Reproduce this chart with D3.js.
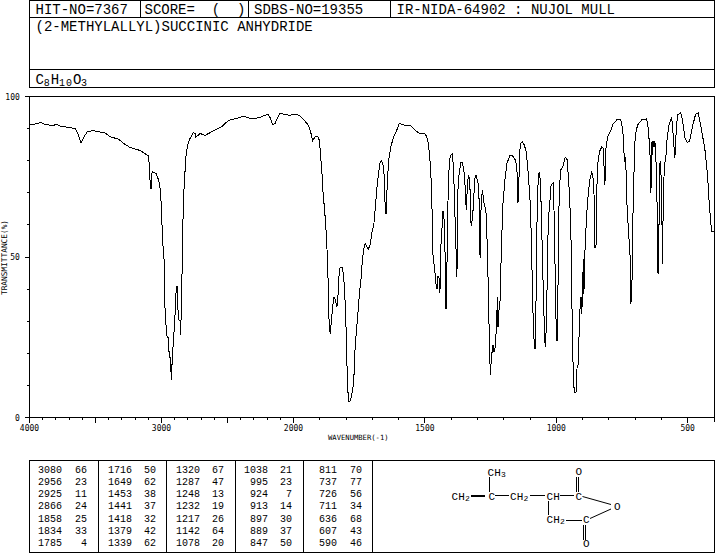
<!DOCTYPE html>
<html><head><meta charset="utf-8">
<style>html,body{margin:0;padding:0;background:#fff}svg{display:block}text{fill:#000}</style>
<script src="https://cdn.jsdelivr.net/npm/d3@7/dist/d3.min.js"></script>
</head><body><div id="c"></div>
<script>
const spectrumWavenumbers=[
3996,3958,3915,3882,3819,3802,3769,3706,3655,3635,3610,3587,3562,3516,3478,3428,3390,3327,3276,3238,3163,3100,3092,3084,3079,3074,3067,3041,3021,3011,3004,2996,2989,2978,2973,2963,2956,2948,2941,2933,2925,2918,2910,2903,2895,2888,2882,2877,2867,2860,2855,2847,2840,2832,2822,2814,2802,2784,2759,2746,2739,2708,2670,2620,2544,2494,2430,2380,2317,2254,2224,2191,2178,2158,2140,2102,2065,2027,2001,
1978,1960,1944,1935,1927,1917,1907,1901,1897,1892,1887,1882,1877,1872,1868,1866,1862,1859,1857,1852,1847,1843,1835,1831,1826,1823,1814,1809,1805,1801,1797,1794,1789,1783,1778,1771,1767,1761,1754,1748,1743,1738,1732,1727,1716,1709,1701,1694,1689,1682,1676,1670,1665,1657,1653,1651,1647,1643,1637,1628,1618,1607,1598,1578,1556,1540,1523,1498,1489,1483,1478,1474,1471,1469,1464,1461,1458,1454,1450,1445,1444,1440,1439,1435,1433,1429,1425,1420,1417,1415,1411,1407,1402,1395,1390,1386,1382,1381,1378,1376,1372,1364,1357,1351,1347,1344,1342,1338,1333,1329,1325,1323,1318,1314,1310,1306,1302,1296,1292,1291,1289,1286,1281,1275,1268,1265,1261,1257,1253,1251,1247,1241,1237,1232,1228,1224,1222,1219,1218,1214,1212,1208,1203,1195,1188,1177,1167,1157,1150,1148,1146,1143,1140,1136,1129,1122,1114,1107,1100,1097,1093,1089,1085,1081,1079,1075,1073,1068,1064,1060,1056,1051,1047,1044,1041,1037,1033,1030,1025,1020,1012,1007,1003,999,997,994,992,988,983,975,
966,959,953,949,944,942,938,934,929,925,921,916,913,909,906,903,897,895,892,885,880,873,866,861,856,853,849,847,842,836,827,820,818,815,812,805,795,783,770,755,747,742,740,736,732,728,723,719,716,712,710,707,700,691,675,656,650,646,641,640,637,635,632,628,625,621,618,615,613,611,607,603,599,596,593,589,583,578,570,561,558,553,549,545,539,527,520,510,502,493,482,470,460,452,435,425,419,412,408,401];
const spectrumTransmittance=[
91.1,91.4,91.9,91.3,90.9,91.4,90.8,90.4,90.0,88.5,85.5,87.5,89.0,89.4,89.0,88.7,87.5,86.7,85.1,84.1,83.2,81.5,78.6,71.3,71.3,76.0,76.6,76.0,73.9,71.3,67.7,59.9,53.7,47.9,32.9,27.1,24.8,24.8,18.8,18.8,11.7,18.8,23.5,28.2,33.9,40.7,40.7,34.4,30.3,30.3,25.8,38.1,57.3,69.3,76.5,81.7,84.9,86.9,88.8,88.5,87.3,88.5,87.9,89.0,90.6,92.5,93.2,93.9,93.0,93.5,94.1,94.4,93.5,91.3,91.6,94.9,94.3,94.2,94.4,
94.2,92.7,91.1,89.0,86.3,87.5,87.5,86.2,81.7,76.5,69.3,65.1,59.4,51.6,41.7,32.3,27.1,26.1,29.2,33.4,37.3,37.3,34.4,37.6,45.3,46.7,46.6,43.8,38.6,30.8,17.8,8.9,5.0,5.3,7.4,10.5,19.9,26.6,33.4,39.6,43.3,49.0,52.6,54.2,52.3,53.7,57.8,60.4,65.1,71.9,76.5,79.7,80.1,78.1,71.9,63.7,63.7,73.9,80.7,84.9,87.5,89.5,91.6,91.1,91.0,89.7,88.6,88.3,86.4,82.3,77.1,68.7,58.3,50.0,46.9,44.8,41.7,40.1,44.1,43.3,38.9,42.2,53.7,58.9,64.1,64.1,58.9,33.9,33.9,58.9,70.8,80.2,81.7,82.3,75.0,63.5,57.3,43.8,43.8,67.7,74.5,79.3,79.3,76.5,71.9,66.7,64.8,73.4,75.5,72.9,60.9,59.8,63.0,68.7,74.5,75.5,74.5,72.4,63.5,51.1,49.8,67.7,70.8,66.7,64.6,58.9,48.5,32.3,18.8,13.1,18.8,22.5,20.4,21.9,28.2,37.5,28.2,28.2,33.9,36.5,43.8,55.2,66.7,74.5,79.1,81.6,81.6,80.4,78.1,70.8,66.9,70.8,82.3,85.4,85.9,84.9,82.8,76.0,67.7,61.5,47.9,33.4,24.5,21.4,27.1,47.9,64.6,76.0,76.2,72.9,60.4,43.8,32.3,24.0,21.9,31.3,52.1,62.0,66.7,72.4,73.1,59.9,36.5,24.0,24.0,35.5,57.3,71.9,77.1,78.1,
81.0,80.4,73.9,68.2,55.2,42.7,21.9,10.0,7.6,7.9,15.7,16.7,27.1,35.5,37.6,32.3,49.5,38.6,50.0,62.5,68.2,73.9,76.3,75.5,68.7,53.1,53.1,68.7,79.1,82.8,84.3,83.8,76.5,72.4,83.3,87.5,89.0,91.6,92.7,92.7,89.5,81.7,79.5,81.2,67.7,61.5,55.2,50.0,35.5,42.7,53.1,69.8,87.5,91.1,92.7,93.0,90.1,85.4,78.1,69.8,85.9,81.7,86.2,84.3,86.2,81.2,68.7,64.6,44.8,44.8,79.1,79.7,67.7,47.9,67.7,78.1,81.2,87.5,91.6,93.5,90.6,85.4,80.7,87.5,94.2,94.9,92.7,86.9,85.7,86.1,90.6,94.5,94.9,91.6,83.8,76.0,67.7,60.4,57.8,57.8];

const peakWavenumbers=[
[3080,2956,2925,2866,1858,1834,1785],
[1716,1649,1453,1441,1418,1379,1339],
[1320,1287,1248,1232,1217,1142,1078],
[1038,995,924,913,897,889,847],
[811,737,726,711,636,607,590]];
const peakValues=[
[66,23,11,24,25,33,4],
[50,62,38,37,32,42,62],
[67,47,13,19,26,64,20],
[21,23,7,14,30,37,50],
[70,77,56,34,68,43,46]];
const xTicksMajor=[4000,3500,3000,2500,2000,1500,1000,500];
const xTickLabels=[4000,3000,2000,1500,1000,500];
const yTickLabels=[0,50,100];
const headerCells=["HIT-NO=7367","SCORE=  (  )","SDBS-NO=19355","IR-NIDA-64902 : NUJOL MULL"];
const compoundName="(2-METHYLALLYL)SUCCINIC ANHYDRIDE";
const formulaParts=[["C",0],["8",1],["H",0],["10",1],["O",0],["3",1]];

const svg=d3.select("#c").append("svg").attr("width",715).attr("height",553);
const MONO="'Liberation Mono',monospace", SMALL="'DejaVu Sans Mono',monospace";
const x=d3.scaleLinear().domain([4000,2000,400]).range([29.5,293.5,714]);
const y=d3.scaleLinear().domain([0,100]).range([417.5,96.5]);

function rect(x0,y0,x1,y1){svg.append("rect").attr("x",x0).attr("y",y0).attr("width",x1-x0).attr("height",y1-y0)
  .attr("fill","none").attr("stroke","#000").attr("shape-rendering","crispEdges");}
function seg(x1,y1,x2,y2,w,crisp=true){svg.append("line").attr("x1",x1).attr("y1",y1).attr("x2",x2).attr("y2",y2)
  .attr("stroke","#000").attr("stroke-width",w||1).attr("shape-rendering",crisp?"crispEdges":"auto");}
function txt(s,x0,y0,size,font,anchor){return svg.append("text").attr("x",x0).attr("y",y0).attr("font-size",size)
  .attr("font-family",font||MONO).attr("text-anchor",anchor||"start").attr("xml:space","preserve").style("white-space","pre").text(s);}

// header
rect(29.5,0.5,714.5,17.5);rect(29.5,17.5,714.5,69.5);rect(29.5,69.5,714.5,87.5);
[140.5,248.5,390.5].forEach(v=>seg(v,0.5,v,17.5));
[35.5,144.5,254,396.5].forEach((p,i)=>txt(headerCells[i],p,13.5,14));
txt(compoundName,35.5,31,14);
let fx=35.5;
formulaParts.forEach(([s,sub])=>{
  const t=txt(s,fx,sub?86:84,sub?10:14);
  if(sub)t.attr("letter-spacing",1);
  fx+=sub?s.length*7:8.2;
});

// plot frame and axes
rect(29.5,96.5,714.5,417.5);
const xMinor=d3.range(4000,300,-100);
xMinor.filter(v=>v>=400).forEach(v=>{const major=xTicksMajor.includes(v);seg(x(v),417.5,x(v),417.5+(major?5:2.5));});
seg(x(400),96.5,x(400),422);
d3.range(0,101,10).forEach(v=>{const major=yTickLabels.includes(v);seg(major?24.5:26.5,y(v),29.5,y(v));});
yTickLabels.forEach(v=>txt(v===100?"100":String(v),19.8,y(v)+3,8,SMALL,"end"));
xTickLabels.forEach(v=>txt(String(v),x(v),430.5,8,SMALL,"middle"));
txt("WAVENUMBER(-1)",328,440,7.2,SMALL);
svg.append("text").attr("transform","translate(6.5,257.5) rotate(-90)").attr("text-anchor","middle")
  .attr("font-family",SMALL).attr("font-size",7.8).text("TRANSMITTANCE(%)");

// spectrum
const line=d3.line().x(d=>x(d[0])).y(d=>y(d[1]));
svg.append("path").datum(d3.zip(spectrumWavenumbers,spectrumTransmittance))
  .attr("d",line).attr("fill","none").attr("stroke","#000").attr("stroke-width",1).attr("shape-rendering","crispEdges");

// peak table
rect(29.5,460.5,372.5,552.5);rect(372.5,460.5,714.5,552.5);
[98.5,166.5,235.5,303.5].forEach(v=>seg(v,460.5,v,552.5));
const nRight=[62,132,200,268,337], vRight=[87,156,224,292,362];
peakWavenumbers.forEach((col,c)=>col.forEach((w,r)=>{
  const by=472.5+r*12.33;
  txt(String(w),nRight[c],by,10,MONO,"end");
  txt(String(peakValues[c][r]),vRight[c],by,10,MONO,"end");
}));

// structure
function chem(parts,x0,by){let cx=x0;parts.forEach(p=>{const sub=/[0-9]/.test(p);txt(p,cx,sub?by+1.5:by,sub?8:11);cx+=sub?5:6.8;});}
chem(["C","H","3"],487.5,475.5);
chem(["C","H","2"],451.5,499.5);
chem(["C"],488.5,499.5);
chem(["C","H","2"],510,499.5);
chem(["C","H"],546.5,499.5);
chem(["C"],575.5,499.5);
chem(["O"],575.5,475);
chem(["O"],614,510);
chem(["C"],583,522.5);
chem(["C","H","2"],546.5,522.5);
chem(["O"],583,547);
seg(489.5,477,489.5,492);
seg(471,495.5,485,495.5,2);
seg(495,495.5,508.5,495.5);
seg(530,495.5,545,495.5);
seg(560,495.5,574,495.5);
seg(576.5,477,576.5,492);seg(578.5,477,578.5,492);
seg(582.5,496.5,611,504.5,1,false);
seg(611,509,590,518.5,1,false);
seg(548.5,501,548.5,514.5);
seg(566,520.5,581.5,520.5);
seg(583.5,524.5,583.5,539.5);seg(585.5,524.5,585.5,539.5);
</script></body></html>
